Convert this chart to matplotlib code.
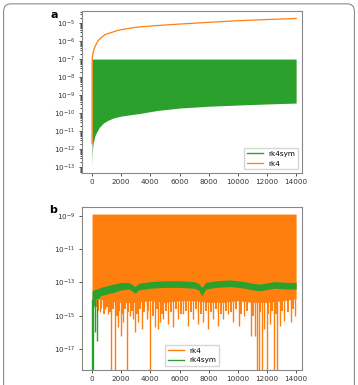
import numpy as np
import matplotlib
matplotlib.use('Agg')
import matplotlib.pyplot as plt
from matplotlib.patches import FancyBboxPatch

GREEN = '#2ca02c'
ORANGE = '#ff7f0e'

# ---- panel a ----
# rk4 (orange line)
a_rk4_t = [0, 10, 40, 100, 200, 430, 890, 1800, 2950, 4250, 6000, 8000, 10000, 12000, 14000]
a_rk4_v = [2e-12, 1.0e-7, 1.6e-7, 2.8e-7, 5e-7, 1.1e-6, 2.3e-6, 4.0e-6, 5.8e-6, 7.1e-6,
           8.8e-6, 1.1e-5, 1.35e-5, 1.57e-5, 1.8e-5]
# rk4sym (green oscillation band: upper / lower envelope)
a_sym_t = [0, 15, 40, 90, 200, 320, 500, 780, 1100, 1450, 2000, 2600, 3300, 4500, 6000,
           8000, 10000, 12000, 14000]
a_sym_lo = [1e-13, 4e-13, 1.2e-12, 2.5e-12, 5.5e-12, 9e-12, 1.6e-11, 2.8e-11, 4e-11,
            5.3e-11, 6.8e-11, 8e-11, 9.6e-11, 1.4e-10, 1.9e-10, 2.4e-10, 2.8e-10,
            3.2e-10, 3.6e-10]
a_sym_hi = 1e-7

# ---- panel b ----  (values as log10)
b_rk4_hi = 1.3e-9
b_rk4_t = [0, 200, 500, 1000, 2000, 3000, 4000, 5000, 6000, 7000, 8000, 9000,
           10000, 11000, 12000, 13000, 14000]
b_rk4_lo = [-14.3, -14.2, -14.0, -14.1, -14.2, -14.2, -14.1, -14.2, -14.1, -14.1,
            -14.2, -14.2, -14.1, -14.2, -14.2, -14.1, -14.0]
b_rk4_spike_t = [550, 720, 900, 1100, 1300, 1580, 1760, 1990, 2150, 2380, 2600, 2840,
                 2950, 3180, 3410, 3750, 3980, 4320, 4550, 4670, 4890, 5240, 5580,
                 5920, 6270, 6610, 6950, 7300, 7640, 7980, 8330, 8670, 9010, 9350,
                 9700, 10090, 10400, 10890, 11190, 11300, 11450, 11670, 11800, 12000,
                 12200, 12500, 12720, 12900, 13200, 13640, 13900]
b_rk4_spike_v = [-14.8, -14.4, -14.6, -14.9, -19, -19, -15.7, -16.2, -15.4, -19, -15.0,
                 -15.2, -16.0, -15.4, -15.8, -15.2, -19, -15.7, -15.8, -15.4, -15.2,
                 -15.5, -15.7, -15.2, -14.9, -15.6, -15.2, -15.5, -15.4, -15.8, -15.2,
                 -15.6, -15.2, -14.9, -15.4, -15.6, -15.0, -16.2, -16.2, -19, -19, -19,
                 -15.8, -19, -15.5, -19, -19, -15.6, -15.3, -15.4, -15.0]
# shorter jags along the lower edge of the rk4 band
b_rk4_jag_t = [300, 420, 640, 800, 1000, 1200, 1450, 1680, 1880, 2060, 2260, 2480,
               2720, 3060, 3300, 3580, 3860, 4150, 4440, 4780, 5060, 5400, 5750, 6100,
               6440, 6780, 7130, 7470, 7810, 8150, 8500, 8840, 9180, 9520, 9880, 10250,
               10650, 11050, 11550, 12100, 12350, 12620, 13050, 13420, 13780]
b_rk4_jag_v = [-14.5, -14.7, -14.6, -14.9, -14.5, -14.8, -14.6, -15.0, -14.7, -14.9,
               -14.6, -14.8, -14.7, -14.9, -14.6, -14.8, -14.7, -15.0, -14.6, -14.9,
               -14.7, -14.8, -14.6, -14.9, -14.7, -14.8, -14.6, -14.9, -14.7, -14.8,
               -14.6, -14.9, -14.7, -14.8, -14.6, -14.9, -14.7, -15.0, -14.8, -14.9,
               -14.7, -14.9, -14.7, -14.8, -14.6]

b_sym_t = [0, 100, 300, 600, 1000, 1500, 2000, 2500, 2800, 2950, 3200, 4000, 5000,
           6000, 7000, 7300, 7530, 7800, 8500, 9500, 10500, 11000, 11500, 12500,
           13500, 14000]
b_sym_hi = [-13.5, -13.45, -13.4, -13.3, -13.2, -13.1, -13.0, -13.0, -13.15, -13.25,
            -13.05, -12.95, -12.9, -12.9, -12.95, -13.05, -13.3, -13.0, -12.9, -12.85,
            -12.95, -13.05, -13.1, -12.95, -13.0, -13.0]
b_sym_lo = [-14.6, -14.5, -14.1, -13.8, -13.7, -13.6, -13.45, -13.4, -13.55, -13.65,
            -13.45, -13.35, -13.3, -13.3, -13.35, -13.45, -13.8, -13.4, -13.3, -13.25,
            -13.35, -13.45, -13.5, -13.35, -13.4, -13.4]
b_sym_spike_t = [30, 80, 200, 360]
b_sym_spike_v = [-19, -19, -16.0, -16.5]

fig = plt.figure(figsize=(3.58, 3.85), dpi=100)
fs = 5.2

frame = FancyBboxPatch((0.01, -0.05), 0.98, 1.04, boxstyle="round,pad=0,rounding_size=0.02",
                       transform=fig.transFigure, fill=False, edgecolor='#8a8a8a', lw=0.8)
fig.patches.append(frame)

axa = fig.add_axes([0.229, 0.5506, 0.6145, 0.4208])
axb = fig.add_axes([0.229, 0.039, 0.6145, 0.4234])

# panel a
axa.fill_between(a_sym_t, a_sym_lo, a_sym_hi, color=GREEN, lw=0)
axa.plot([], [], color=GREEN, lw=1, label='rk4sym')
axa.plot(a_rk4_t, a_rk4_v, color=ORANGE, lw=0.9, label='rk4')
axa.set_yscale('log')
axa.set_ylim(10**-13.33, 10**-4.33)
axa.set_yticks([10.0**k for k in range(-13, -4)])
axa.legend(loc='lower right', fontsize=fs, handlelength=2.2)

# panel b
axb.fill_between(b_rk4_t, 10.0 ** np.array(b_rk4_lo), b_rk4_hi, color=ORANGE, lw=0)
axb.vlines(b_rk4_jag_t, 10.0 ** np.array(b_rk4_jag_v), 10**-14, color=ORANGE, lw=1.4)
axb.vlines(b_rk4_spike_t, 10.0 ** np.array(b_rk4_spike_v), 10**-14, color=ORANGE, lw=1.0)
axb.plot([], [], color=ORANGE, lw=1, label='rk4')
axb.fill_between(b_sym_t, 10.0 ** np.array(b_sym_lo), 10.0 ** np.array(b_sym_hi),
                 color=GREEN, lw=0)
axb.vlines(b_sym_spike_t, 10.0 ** np.array(b_sym_spike_v), 10**-14, color=GREEN, lw=1.0)
axb.plot([], [], color=GREEN, lw=1, label='rk4sym')
axb.set_yscale('log')
axb.set_ylim(10**-18.27, 10**-8.46)
axb.set_yticks([10.0**k for k in (-17, -15, -13, -11, -9)])
axb.legend(loc='lower center', fontsize=fs, handlelength=2.2)

for ax in (axa, axb):
    ax.set_xlim(-690, 14400)
    ax.set_xticks(range(0, 14001, 2000))
    ax.tick_params(labelsize=fs, colors='#333333', length=2.5, width=0.6, pad=2)
    ax.tick_params(which='minor', length=1.5, width=0.5)
    for s in ax.spines.values():
        s.set_color('#888888')
        s.set_linewidth(0.8)

fig.text(0.142, 0.952, 'a', fontsize=8, fontweight='bold')
fig.text(0.136, 0.448, 'b', fontsize=8, fontweight='bold')

fig.savefig('out.png', dpi=100)
